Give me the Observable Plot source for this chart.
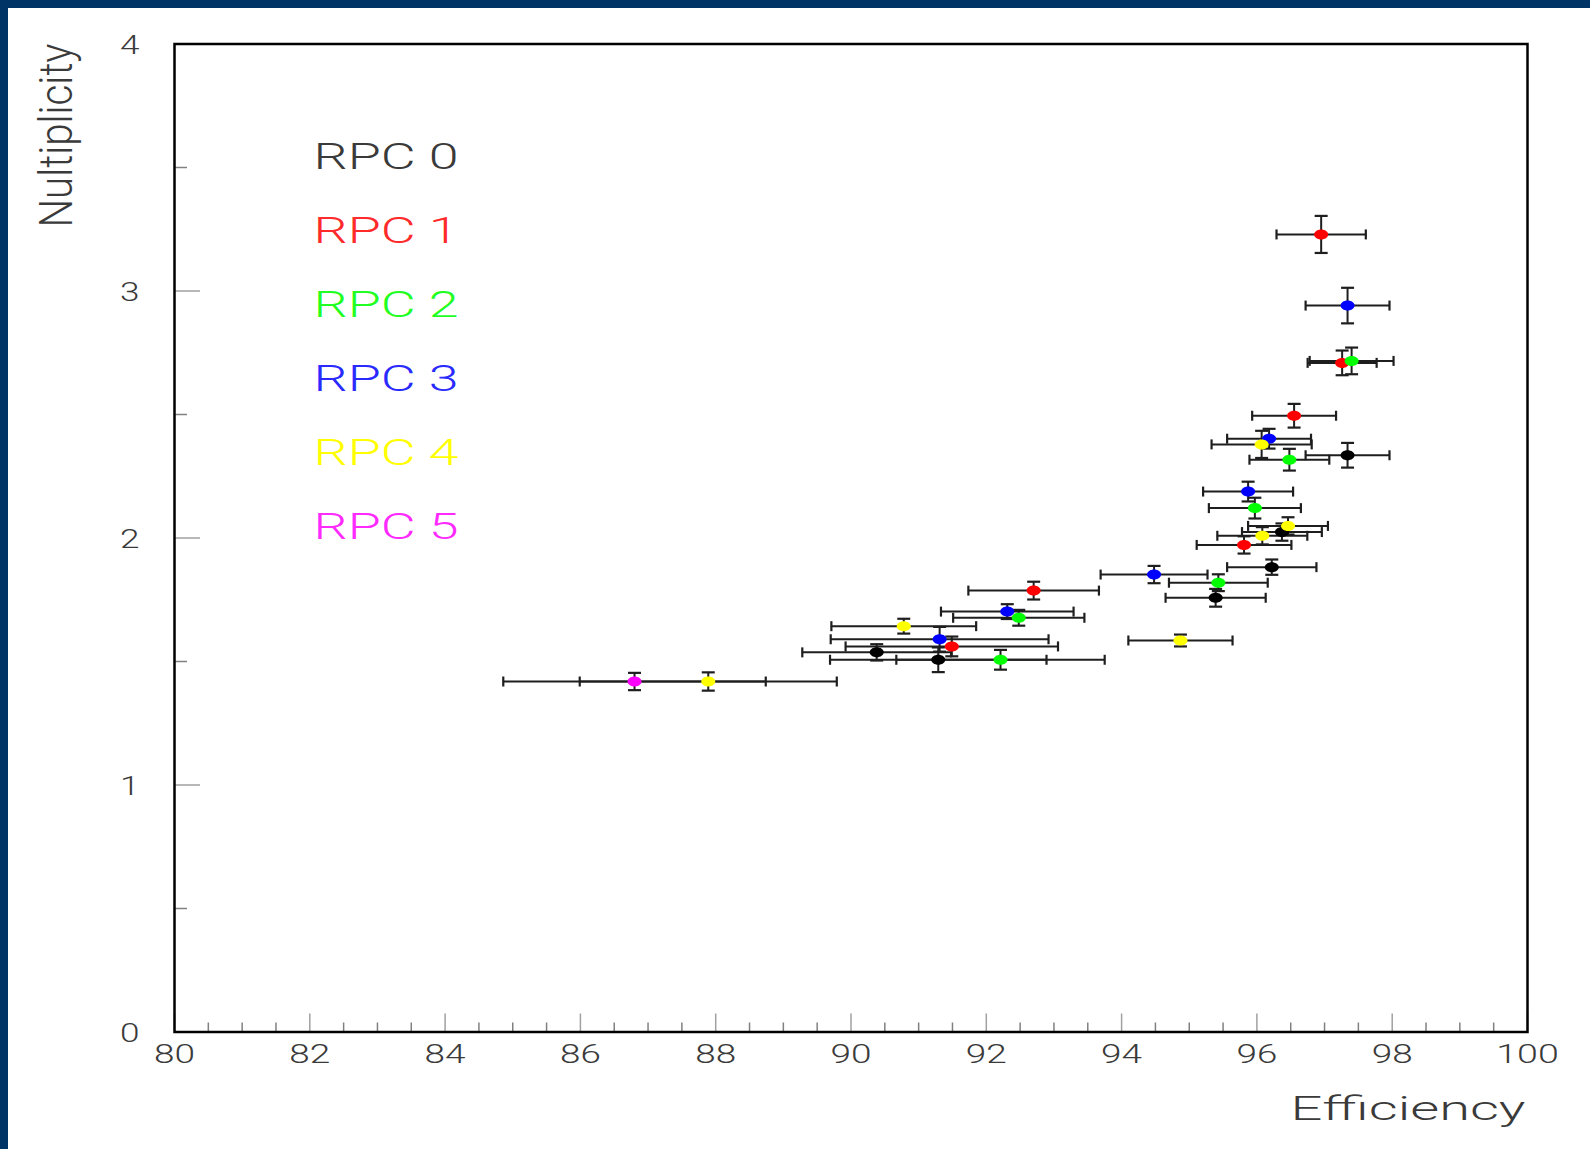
<!DOCTYPE html>
<html>
<head>
<meta charset="utf-8">
<script src="https://cdn.jsdelivr.net/npm/d3@7"></script>
<script src="https://cdn.jsdelivr.net/npm/@observablehq/plot@0.6"></script>
<style>
  html, body { margin: 0; padding: 0; background: #fff; }
  #wrap { position: relative; width: 1590px; height: 1149px; overflow: hidden; }
  #wrap svg { position: absolute; left: 0; top: 0; }
  .navy { position: absolute; background: #003366; z-index: 2; }
</style>
</head>
<body>
<div id="wrap">
  <div class="navy" style="left:0;top:0;width:1590px;height:8px"></div>
  <div class="navy" style="left:0;top:0;width:7.5px;height:1149px"></div>
</div>
<script>
// ---- data ----
const seriesNames = ["RPC 0", "RPC 1", "RPC 2", "RPC 3", "RPC 4", "RPC 5"];

const eff0  = [97.34, 96.37, 96.22, 95.39, 90.38, 91.29];
const mult0 = [2.335, 2.024, 1.882, 1.758, 1.537, 1.507];
const dEff0 = [0.62, 0.59, 0.66, 0.74, 1.10, 1.60];
const dMult0 = [0.05, 0.035, 0.031, 0.036, 0.033, 0.05];

const eff1  = [96.95, 97.26, 96.55, 95.81, 92.70, 91.49];
const mult1 = [3.229, 2.709, 2.495, 1.972, 1.787, 1.561];
const dEff1 = [0.66, 0.51, 0.62, 0.70, 0.965, 1.57];
const dMult1 = [0.075, 0.05, 0.048, 0.035, 0.036, 0.04];

const eff2  = [97.40, 96.48, 95.97, 95.43, 92.48, 92.21];
const mult2 = [2.717, 2.317, 2.121, 1.819, 1.677, 1.507];
const dEff2 = [0.62, 0.59, 0.68, 0.73, 0.97, 1.54];
const dMult2 = [0.054, 0.044, 0.042, 0.034, 0.032, 0.04];

const eff3  = [97.34, 96.18, 95.87, 94.48, 92.31, 91.31];
const mult3 = [2.941, 2.402, 2.188, 1.852, 1.702, 1.590];
const dEff3 = [0.62, 0.62, 0.665, 0.79, 0.98, 1.61];
const dMult3 = [0.072, 0.04, 0.04, 0.035, 0.03, 0.05];

const eff4  = [96.07, 96.46, 96.08, 94.87, 90.78, 87.89];
const mult4 = [2.379, 2.049, 2.009, 1.585, 1.643, 1.419];
const dEff4 = [0.74, 0.59, 0.665, 0.77, 1.07, 1.90];
const dMult4 = [0.055, 0.035, 0.035, 0.024, 0.03, 0.037];

const eff5  = [86.80];
const mult5 = [1.419];
const dEff5 = [1.94];
const dMult5 = [0.035];

const xTickLabels = [80, 82, 84, 86, 88, 90, 92, 94, 96, 98, 100];
const yTickLabels = [0, 1, 2, 3, 4];
const xMinorTicks = d3.range(80.5, 100, 0.5).filter(v => Math.abs(v % 2) > 1e-9);
const yMinorTicks = [0.5, 1.5, 2.5, 3.5];

// ---- build table ----
const effs = [eff0, eff1, eff2, eff3, eff4, eff5];
const mults = [mult0, mult1, mult2, mult3, mult4, mult5];
const dEffs = [dEff0, dEff1, dEff2, dEff3, dEff4, dEff5];
const dMults = [dMult0, dMult1, dMult2, dMult3, dMult4, dMult5];
const rows = seriesNames.flatMap((s, i) => effs[i].map((e, j) => ({
  series: s, eff: e, mult: mults[i][j], dEff: dEffs[i][j], dMult: dMults[i][j]
})));

// ---- styles ----
const dotColors = ["#000000", "#ff0000", "#00ff00", "#0000ff", "#ffff00", "#ff00ff"];
const legendColors = ["#3a3a3a", "#ff2a2a", "#22ff22", "#2a2aff", "#ffff00", "#ff2aff"];
const W = 1590, H = 1149, mL = 174, mR = 63, mT = 43.5, mB = 117.5;
const innerW = W - mL - mR, innerH = H - mT - mB;
const barColor = "#1e1e1e";
const font = "Roboto, 'DejaVu Sans', sans-serif";
const textColor = "#3a3a3a";

const vCap = { draw(ctx) { ctx.moveTo(0, -5); ctx.lineTo(0, 5); } };
const hCap = { draw(ctx) { ctx.moveTo(-6.5, 0); ctx.lineTo(6.5, 0); } };
const ellipse = { draw(ctx) {
  const rx = 7, ry = 5, k = 0.5523;
  ctx.moveTo(rx, 0);
  ctx.bezierCurveTo(rx, ry * k, rx * k, ry, 0, ry);
  ctx.bezierCurveTo(-rx * k, ry, -rx, ry * k, -rx, 0);
  ctx.bezierCurveTo(-rx, -ry * k, -rx * k, -ry, 0, -ry);
  ctx.bezierCurveTo(rx * k, -ry, rx, -ry * k, rx, 0);
  ctx.closePath();
} };

const chart = Plot.plot({
  width: W, height: H,
  marginLeft: mL, marginRight: mR, marginTop: mT, marginBottom: mB,
  style: { fontFamily: font, fontWeight: 300, background: "transparent", color: textColor },
  x: { domain: [80, 100] },
  y: { domain: [0, 4] },
  color: { domain: seriesNames, range: dotColors },
  marks: [
    // ticks inside frame
    Plot.ruleX(xMinorTicks, { x: d => d, insetTop: innerH - 9, stroke: "#808080", strokeWidth: 1.5 }),
    Plot.ruleX(xTickLabels, { x: d => d, insetTop: innerH - 18, stroke: "#a0a0a0", strokeWidth: 1.5 }),
    Plot.ruleY(yMinorTicks, { y: d => d, insetRight: innerW - 13, stroke: "#808080", strokeWidth: 1.5 }),
    Plot.ruleY(yTickLabels, { y: d => d, insetRight: innerW - 26, stroke: "#a0a0a0", strokeWidth: 1.5 }),
    Plot.axisX(xTickLabels, { tickSize: 0, tickPadding: 13.5, fontSize: 25, fill: textColor, label: null, tickFormat: d => String(d) }),
    Plot.axisY(yTickLabels, { tickSize: 0, tickPadding: 35, dy: 2, fontSize: 25, fill: textColor, label: null, tickFormat: d => String(d) }),
    Plot.frame({ stroke: "#000", strokeWidth: 2.5 }),
    // error bars
    Plot.ruleY(rows, { y: "mult", x1: d => d.eff - d.dEff, x2: d => d.eff + d.dEff, stroke: barColor, strokeWidth: 2 }),
    Plot.ruleX(rows, { x: "eff", y1: d => d.mult - d.dMult, y2: d => d.mult + d.dMult, stroke: barColor, strokeWidth: 2 }),
    Plot.dot(rows, { x: d => d.eff - d.dEff, y: "mult", symbol: vCap, fill: "none", stroke: barColor, strokeWidth: 2.2 }),
    Plot.dot(rows, { x: d => d.eff + d.dEff, y: "mult", symbol: vCap, fill: "none", stroke: barColor, strokeWidth: 2.2 }),
    Plot.dot(rows, { x: "eff", y: d => d.mult - d.dMult, symbol: hCap, fill: "none", stroke: barColor, strokeWidth: 2.2 }),
    Plot.dot(rows, { x: "eff", y: d => d.mult + d.dMult, symbol: hCap, fill: "none", stroke: barColor, strokeWidth: 2.2 }),
    // points
    Plot.dot(rows, { x: "eff", y: "mult", symbol: ellipse, fill: "series", stroke: "none" }),
    // legend texts
    ...seriesNames.map((s, i) => Plot.text([s], {
      text: d => d, frameAnchor: "top-left", textAnchor: "start", lineAnchor: "middle",
      dx: 139, dy: 113 + 74 * i, fontSize: 36.6, fill: legendColors[i]
    })),
    // axis titles
    Plot.text(["Efficiency"], { text: d => d, frameAnchor: "bottom-right", textAnchor: "end", lineAnchor: "bottom",
      dx: -2, dy: 87.5, fontSize: 34, fill: textColor }),
    Plot.text(["Nultiplicity"], { text: d => d, frameAnchor: "top-left", textAnchor: "end", lineAnchor: "bottom",
      rotate: -90, dx: -102.3, dy: -0.5, fontSize: 46, fill: textColor })
  ]
});

// widen/condense glyphs to match the original wide plotting font
const stretch = { "25": n => 21.5 * n - 2, "36.6": () => 145, "34": () => 235, "46": () => 184 };
chart.querySelectorAll("text").forEach(t => {
  const holder = t.closest("[font-size]");
  const fs = holder ? holder.getAttribute("font-size") : null;
  const f = stretch[fs];
  if (f) {
    t.setAttribute("textLength", f(t.textContent.length));
    t.setAttribute("lengthAdjust", "spacingAndGlyphs");
  }
});

document.getElementById("wrap").appendChild(chart);
</script>
</body>
</html>
